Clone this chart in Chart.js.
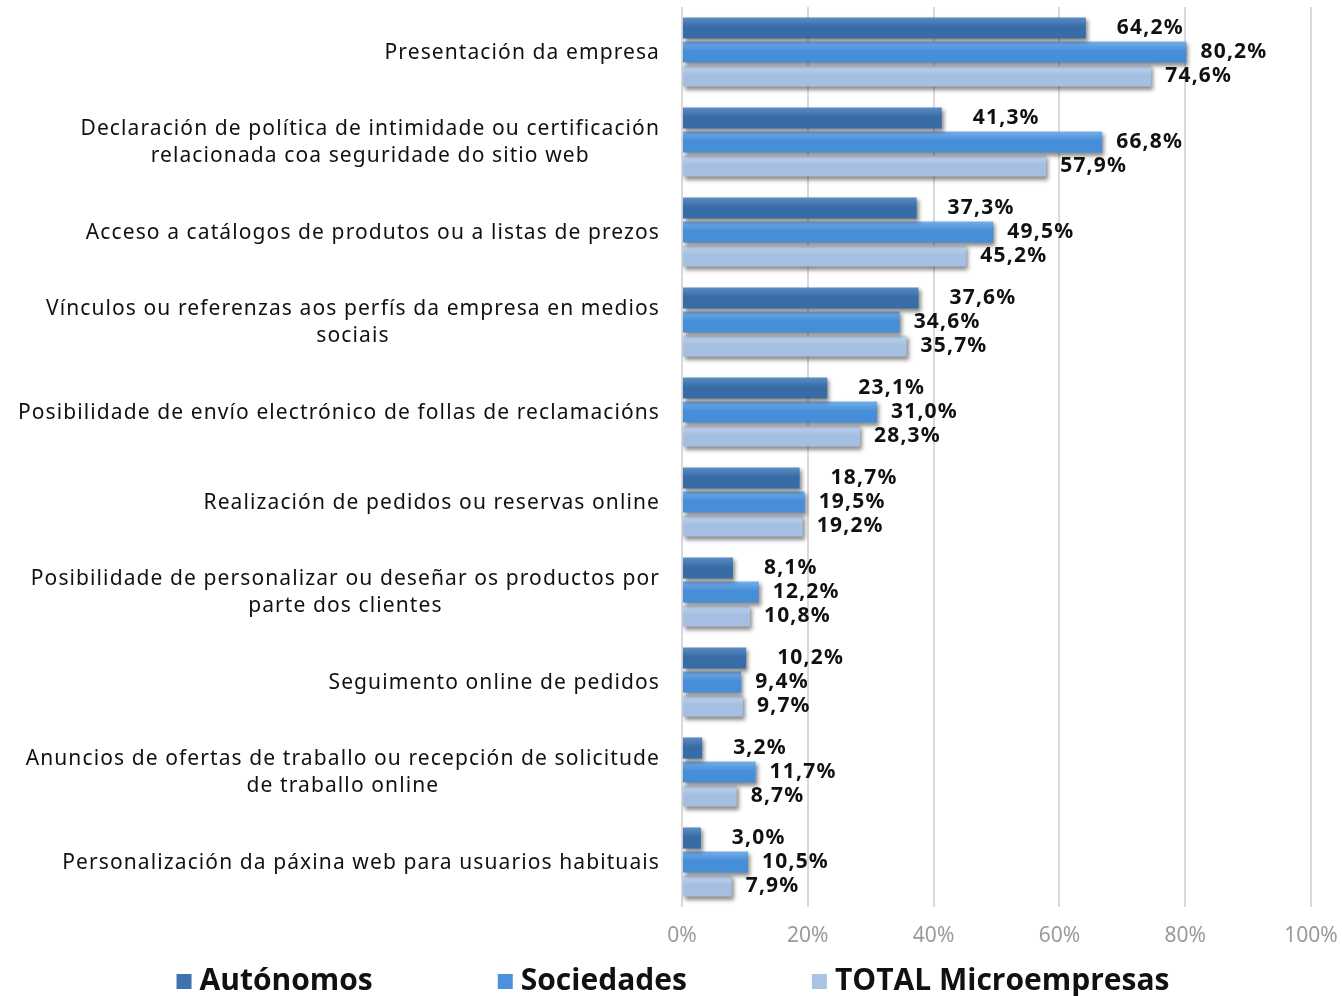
<!DOCTYPE html>
<html>
<head>
<meta charset="utf-8">
<script src="https://cdn.jsdelivr.net/npm/chart.js@4/dist/chart.umd.min.js"></script>
<style>
  html, body { margin: 0; padding: 0; background: #fff; }
  #wrap { position: relative; width: 1342px; height: 996px; }
</style>
</head>
<body>
<div id="wrap"><canvas id="chart" width="1342" height="996"></canvas></div>
<script>
// categorías (multi-liña cando o orixinal parte o texto)
const categories = [
    'Presentación da empresa',
    ['Declaración de política de intimidade ou certificación', 'relacionada coa seguridade do sitio web'],
    'Acceso a catálogos de produtos ou a listas de prezos',
    ['Vínculos ou referenzas aos perfís da empresa en medios', 'sociais'],
    'Posibilidade de envío electrónico de follas de reclamacións',
    'Realización de pedidos ou reservas online',
    ['Posibilidade de personalizar ou deseñar os productos por', 'parte dos clientes'],
    'Seguimento online de pedidos',
    ['Anuncios de ofertas de traballo ou recepción de solicitude', 'de traballo online'],
    'Personalización da páxina web para usuarios habituais'
];

const seriesNames = ['Autónomos', 'Sociedades', 'TOTAL Microempresas'];
const autonomos = [64.2, 41.3, 37.3, 37.6, 23.1, 18.7, 8.1, 10.2, 3.2, 3.0];
const sociedades = [80.2, 66.8, 49.5, 34.6, 31.0, 19.5, 12.2, 9.4, 11.7, 10.5];
const totalMicro = [74.6, 57.9, 45.2, 35.7, 28.3, 19.2, 10.8, 9.7, 8.7, 7.9];
const xTicks = [0, 20, 40, 60, 80, 100];

// cores: [arriba, abaixo, lenda]
const palette = [
    ['#5e8cc2', '#386ca7', '#3e73ae'],
    ['#74aee8', '#478ed8', '#4b91db'],
    ['#c3d6ef', '#a5bfe3', '#aac4e6']
];

const fmt = v => v.toFixed(1).replace('.', ',') + '%';

// degradado vertical e sombra nas barras
const barStyle = {
    id: 'barStyle',
    beforeDatasetDraw(chart, args) {
        const ctx = chart.ctx;
        const cols = palette[args.index];
        args.meta.data.forEach(bar => {
            const top = bar.y - bar.height / 2;
            const g = ctx.createLinearGradient(0, top, 0, top + bar.height);
            g.addColorStop(0, cols[0]);
            g.addColorStop(0.45, cols[1]);
            g.addColorStop(1, cols[1]);
            bar.options = Object.assign({}, bar.options, { backgroundColor: g });
        });
        ctx.save();
        ctx.shadowColor = 'rgba(0,0,0,0.45)';
        ctx.shadowBlur = 4;
        ctx.shadowOffsetX = 2;
        ctx.shadowOffsetY = 3;
    },
    afterDatasetDraw(chart) {
        chart.ctx.restore();
    }
};

// etiquetas de valores, categorías e lenda
const textLayer = {
    id: 'textLayer',
    afterDraw(chart) {
        const ctx = chart.ctx;
        ctx.save();

        // valores
        ctx.font = 'bold 21px "Noto Sans"';
        ctx.letterSpacing = '1.2px';
        ctx.fillStyle = '#111';
        ctx.textAlign = 'left';
        ctx.textBaseline = 'middle';
        chart.data.datasets.forEach((ds, i) => {
            const off = i === 0 ? 31 : 14;
            chart.getDatasetMeta(i).data.forEach((bar, j) => {
                ctx.fillText(fmt(ds.data[j]), bar.x + off, bar.y);
            });
        });

        // categorías: bloque aliñado á dereita, liñas centradas entre si
        const yScale = chart.scales.y;
        const right = chart.chartArea.left - 22;
        ctx.font = '21px "Noto Sans"';
        ctx.letterSpacing = '1.1px';
        ctx.fillStyle = '#111';
        ctx.textAlign = 'center';
        categories.forEach((lab, i) => {
            const lines = Array.isArray(lab) ? lab : [lab];
            const w = Math.max(...lines.map(l => ctx.measureText(l).width));
            const cx = right - w / 2;
            const cy = yScale.getPixelForValue(i) + 1;
            const lh = 27;
            lines.forEach((l, k) => {
                ctx.fillText(l, cx, cy + (k - (lines.length - 1) / 2) * lh);
            });
        });

        // lenda
        ctx.font = 'bold 30px "Open Sans"';
        ctx.letterSpacing = '0px';
        ctx.textAlign = 'left';
        const box = 15, gap = 8, spacing = 125;
        const widths = seriesNames.map(n => box + gap + ctx.measureText(n).width);
        const total = widths.reduce((a, b) => a + b, 0) + spacing * (seriesNames.length - 1);
        let x = chart.width / 2 - total / 2 + 2;
        const ly = 981;
        seriesNames.forEach((n, i) => {
            ctx.fillStyle = palette[i][2];
            ctx.fillRect(x, ly - 7, box, box);
            ctx.fillStyle = '#111';
            ctx.fillText(n, x + box + gap, ly);
            x += widths[i] + spacing;
        });

        ctx.restore();
    }
};

new Chart(document.getElementById('chart'), {
    type: 'bar',
    data: {
        labels: categories,
        datasets: [
            { label: seriesNames[0], data: autonomos, backgroundColor: palette[0][2] },
            { label: seriesNames[1], data: sociedades, backgroundColor: palette[1][2] },
            { label: seriesNames[2], data: totalMicro, backgroundColor: palette[2][2] }
        ]
    },
    options: {
        indexAxis: 'y',
        responsive: false,
        animation: false,
        datasets: {
            bar: { categoryPercentage: 0.8, barPercentage: 0.88 }
        },
        layout: { padding: { top: 7, right: 31, bottom: 0, left: 0 } },
        plugins: {
            legend: { display: false },
            tooltip: { enabled: false }
        },
        scales: {
            x: {
                min: 0,
                max: 100,
                afterBuildTicks: scale => { scale.ticks = xTicks.map(v => ({ value: v })); },
                afterFit: scale => {
                    scale.height = 89;
                    scale.paddingLeft = 0;
                    scale.paddingRight = 0;
                },
                ticks: {
                    callback: v => v + '%',
                    color: '#9a9a9a',
                    font: { family: 'Noto Sans', size: 21 },
                    padding: 16,
                    maxRotation: 0
                },
                grid: { color: '#d9d9d9', lineWidth: 2, drawTicks: false },
                border: { display: false }
            },
            y: {
                afterFit: scale => { scale.width = 682; },
                ticks: { display: false },
                grid: { display: false },
                border: { display: false }
            }
        }
    },
    plugins: [barStyle, textLayer]
});
</script>
</body>
</html>
